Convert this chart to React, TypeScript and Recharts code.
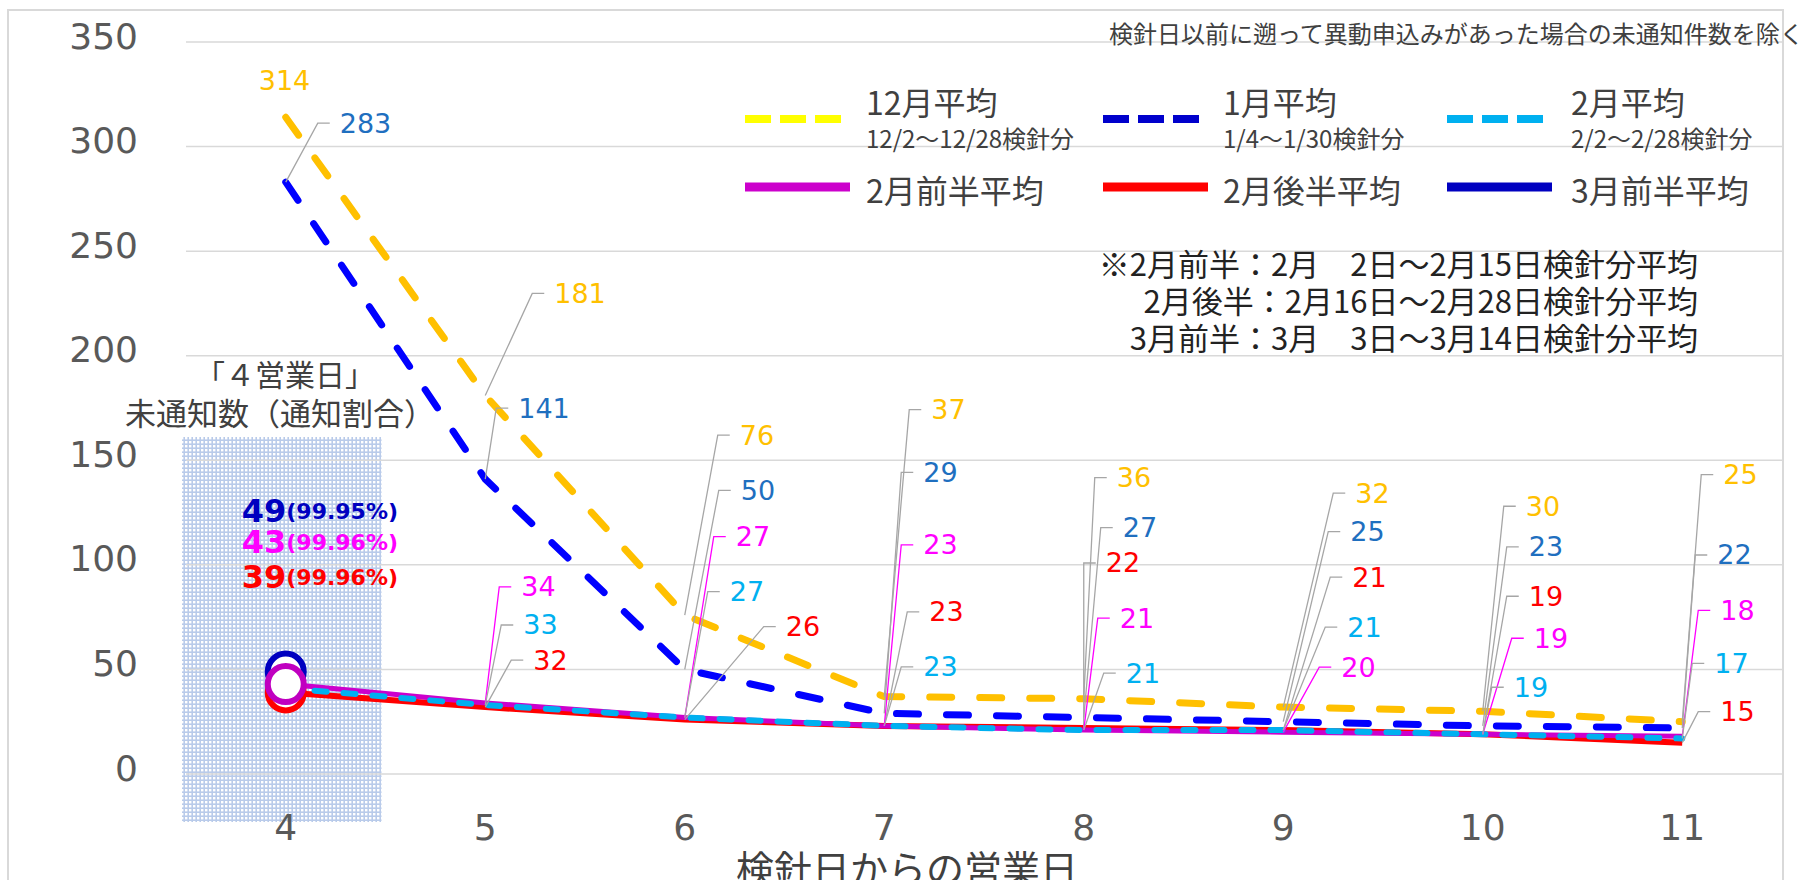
import { LineChart, Line, XAxis, YAxis, CartesianGrid, LabelList } from "recharts";

const days = ["4", "5", "6", "7", "8", "9", "10", "11"];
const decAvg = [314, 181, 76, 37, 36, 32, 30, 25];
const janAvg = [283, 141, 50, 29, 27, 25, 23, 22];
const febAvg = [41, 33, 27, 23, 21, 21, 19, 17];
const febFirstAvg = [43, 34, 27, 23, 21, 20, 19, 18];
const febSecondAvg = [39, 32, 26, 23, 22, 21, 19, 15];
const marFirstAvg = [49, null, null, null, null, null, null, null];
const day4Rates = { marFirst: "(99.95%)", febFirst: "(99.96%)", febSecond: "(99.96%)" };
const yTicks = [0, 50, 100, 150, 200, 250, 300, 350];

const data = days.map((day, i) => ({
  day,
  dec: decAvg[i],
  jan: janAvg[i],
  feb: febAvg[i],
  febFirst: febFirstAvg[i],
  febSecond: febSecondAvg[i],
  marFirst: marFirstAvg[i],
}));

// label placement (offset from the point)
const decOffsets = [[-27, -37], [69, -102], [55, -180], [47, -287], [33, -221], [72, -214], [43, -205], [41, -247]];
const janOffsets = [[54, -59], [33, -71], [56, -179], [39, -241], [39, -190], [67, -190], [46, -179], [35, -173]];
const febOffsets = [null, [38, -80], [45, -126], [39, -59], [42, -57], [64, -103], [31, -47], [32, -75]];
const febFirstOffsets = [[-44, -142], [36, -116], [51, -181], [39, -181], [36, -112], [58, -65], [51, -96], [38, -126]];
const febSecondOffsets = [[-44, -115], [48, -47], [101, -93], [45, -114], [22, -165], [69, -153], [46, -138], [38, -31]];
const marFirstOffsets = [[-44, -161]];

const legendItems = [
  { name: "12月平均", sub: "12/2～12/28検針分", color: "#ffff00", dashed: true },
  { name: "1月平均", sub: "1/4～1/30検針分", color: "#0000cc", dashed: true },
  { name: "2月平均", sub: "2/2～2/28検針分", color: "#00b0f0", dashed: true },
  { name: "2月前半平均", color: "#cc00cc" },
  { name: "2月後半平均", color: "#ff0000" },
  { name: "3月前半平均", color: "#0000c0" },
];

const notes = [
  "※2月前半：2月　2日～2月15日検針分平均",
  "2月後半：2月16日～2月28日検針分平均",
  "3月前半：3月　3日～3月14日検針分平均",
];

const JP = "'Noto Sans CJK JP', 'Noto Sans', sans-serif";
const NUM = "'DejaVu Sans', sans-serif";

const PLOT_LEFT = 186;
const PLOT_RIGHT = 1782;
const BAND = (PLOT_RIGHT - PLOT_LEFT) / 8;

const makeLabel =
  (offsets: any[], color: string, leader: string, plain: number[] = [], special?: string) =>
  (props: any) => {
    const x = props.x ?? props.viewBox?.x;
    const y = props.y ?? props.viewBox?.y;
    const value = props.value;
    let index = props.index;
    if (index == null) index = Math.round((x - PLOT_LEFT - BAND / 2) / BAND);
    const off = offsets[index];
    if (!off || value == null || x == null || y == null) return null;
    const tx = x + off[0];
    const ty = y + off[1];
    if (special && index === 0) {
      return (
        <text x={tx} y={ty} fill={color} fontFamily={NUM} fontWeight={700} dominantBaseline="central">
          <tspan fontSize={32}>{value}</tspan>
          <tspan fontSize={22}>{special}</tspan>
        </text>
      );
    }
    return (
      <g>
        {!plain.includes(index) && (
          <polyline
            points={`${x},${y} ${tx - 22},${ty} ${tx - 10},${ty}`}
            fill="none"
            stroke={leader}
            strokeWidth={1.3}
          />
        )}
        <text x={tx} y={ty} fill={color} fontFamily={NUM} fontSize={27} dominantBaseline="central">
          {value}
        </text>
      </g>
    );
  };

const ring = (color: string) => (p: any) =>
  p.index === 0 && p.cy != null ? (
    <circle key={`ring-${color}`} cx={p.cx} cy={p.cy} r={18} fill="#fff" stroke={color} strokeWidth={6} />
  ) : (
    <g key={`ring-${color}-${p.index}`} />
  );

const YTick = (props: any) => (
  <text x={props.x} y={props.y - 6} textAnchor="end" dominantBaseline="central" fill="#595959" fontFamily={NUM} fontSize={36}>
    {props.payload.value}
  </text>
);

const XTick = (props: any) => (
  <text x={props.x} y={props.y} textAnchor="middle" dominantBaseline="central" fill="#595959" fontFamily={NUM} fontSize={36}>
    {props.payload.value}
  </text>
);

export default function App() {
  const symX = [745, 1103, 1447];
  const textX = [866, 1223, 1571];

  return (
    <div style={{ position: "absolute", left: 0, top: 0, width: 1800, height: 880, background: "#fff", overflow: "hidden", fontFamily: JP }}>
      {/* background: frame and the 4th-day highlight */}
      <svg width={1800} height={880} style={{ position: "absolute", left: 0, top: 0 }}>
        <defs>
          <pattern id="grid4" width={4} height={4} patternUnits="userSpaceOnUse">
            <rect width={4} height={4} fill="#b9cbea" />
            <rect x={1} y={1} width={2.4} height={2.4} fill="#ffffff" />
          </pattern>
        </defs>
        <rect x={8} y={10} width={1775} height={900} fill="none" stroke="#d9d9d9" strokeWidth={2} />
        <rect x={PLOT_LEFT - 4} y={437} width={BAND} height={385} fill="url(#grid4)" />
      </svg>

      <div style={{ position: "absolute", left: 0, top: 0 }}>
        <LineChart width={1800} height={880} data={data} margin={{ top: 42, right: 1800 - PLOT_RIGHT, left: 0, bottom: 0 }}>
          <CartesianGrid horizontal vertical={false} stroke="#d9d9d9" strokeWidth={1.5} />
          <XAxis
            dataKey="day"
            scale="point"
            padding={{ left: BAND / 2, right: BAND / 2 }}
            height={106}
            axisLine={false}
            tickLine={false}
            tickSize={0}
            tickMargin={53}
            tick={<XTick />}
            interval={0}
          />
          <YAxis
            domain={[0, 350]}
            ticks={yTicks}
            width={PLOT_LEFT}
            axisLine={false}
            tickLine={false}
            tickSize={0}
            tickMargin={48}
            tick={<YTick />}
          />

          <Line dataKey="febSecond" stroke="#ff0000" strokeWidth={6} dot={false} activeDot={false} isAnimationActive={false}>
            <LabelList dataKey="febSecond" content={makeLabel(febSecondOffsets, "#ff0000", "#a6a6a6", [], day4Rates.febSecond)} />
          </Line>
          <Line dataKey="febFirst" stroke="#cc00cc" strokeWidth={5} dot={false} activeDot={false} isAnimationActive={false}>
            <LabelList dataKey="febFirst" content={makeLabel(febFirstOffsets, "#ff00ff", "#ff00ff", [], day4Rates.febFirst)} />
          </Line>
          <Line dataKey="feb" stroke="#00b0f0" strokeWidth={6} strokeDasharray="12 17" strokeLinecap="round" dot={false} activeDot={false} isAnimationActive={false}>
            <LabelList dataKey="feb" content={makeLabel(febOffsets, "#00b0f0", "#a6a6a6")} />
          </Line>
          <Line dataKey="jan" stroke="#0000ff" strokeWidth={7} strokeDasharray="22 28" strokeLinecap="round" dot={false} activeDot={false} isAnimationActive={false}>
            <LabelList dataKey="jan" content={makeLabel(janOffsets, "#1f6fbf", "#a6a6a6")} />
          </Line>
          <Line dataKey="dec" stroke="#ffc000" strokeWidth={7} strokeDasharray="22 28" strokeLinecap="round" dot={false} activeDot={false} isAnimationActive={false}>
            <LabelList dataKey="dec" content={makeLabel(decOffsets, "#ffc000", "#a6a6a6", [0])} />
          </Line>

          {/* markers at day 4 on top of everything */}
          <Line dataKey="febSecond" stroke="none" dot={ring("#ff0000")} activeDot={false} legendType="none" isAnimationActive={false} />
          <Line dataKey="marFirst" stroke="#0000c0" strokeWidth={5} dot={ring("#0000c0")} activeDot={false} isAnimationActive={false}>
            <LabelList dataKey="marFirst" content={makeLabel(marFirstOffsets, "#0000c0", "#a6a6a6", [], day4Rates.marFirst)} />
          </Line>
          <Line dataKey="febFirst" stroke="none" dot={ring("#c000c0")} activeDot={false} legendType="none" isAnimationActive={false} />
        </LineChart>
      </div>

      {/* texts, legend */}
      <svg width={1800} height={880} style={{ position: "absolute", left: 0, top: 0, pointerEvents: "none" }}>
        <text x={1109} y={32} fontSize={24} fill="#404040" dominantBaseline="central" fontFamily={JP}>
          検針日以前に遡って異動申込みがあった場合の未通知件数を除く
        </text>

        {legendItems.map((item, i) => {
          const col = i % 3;
          const row = Math.floor(i / 3);
          const ly = row === 0 ? 119 : 187;
          return (
            <g key={item.name}>
              <line
                x1={symX[col]}
                x2={symX[col] + 105}
                y1={ly}
                y2={ly}
                stroke={item.color}
                strokeWidth={item.dashed ? 8 : 9}
                strokeDasharray={item.dashed ? "26 9" : undefined}
              />
              <text x={textX[col]} y={row === 0 ? 101 : 189} fontSize={32} fill="#404040" dominantBaseline="central" fontFamily={JP}>
                {item.name}
              </text>
              {item.sub && (
                <text x={textX[col]} y={137} fontSize={24} fill="#404040" dominantBaseline="central" fontFamily={JP}>
                  {item.sub}
                </text>
              )}
            </g>
          );
        })}

        {notes.map((n, i) => (
          <text key={n} x={1698} y={262 + i * 37} textAnchor="end" fontSize={31} fill="#222" dominantBaseline="central" fontFamily={JP}>
            {n}
          </text>
        ))}

        <text x={285} y={373} textAnchor="middle" fontSize={30} fill="#404040" dominantBaseline="central" fontFamily={JP}>
          「４営業日」
        </text>
        <text x={280} y={411} textAnchor="middle" fontSize={31} fill="#404040" dominantBaseline="central" fontFamily={JP}>
          未通知数（通知割合）
        </text>

        <text x={907} y={866} textAnchor="middle" fontSize={38} fill="#404040" dominantBaseline="central" fontFamily={JP}>
          検針日からの営業日
        </text>
      </svg>
    </div>
  );
}
